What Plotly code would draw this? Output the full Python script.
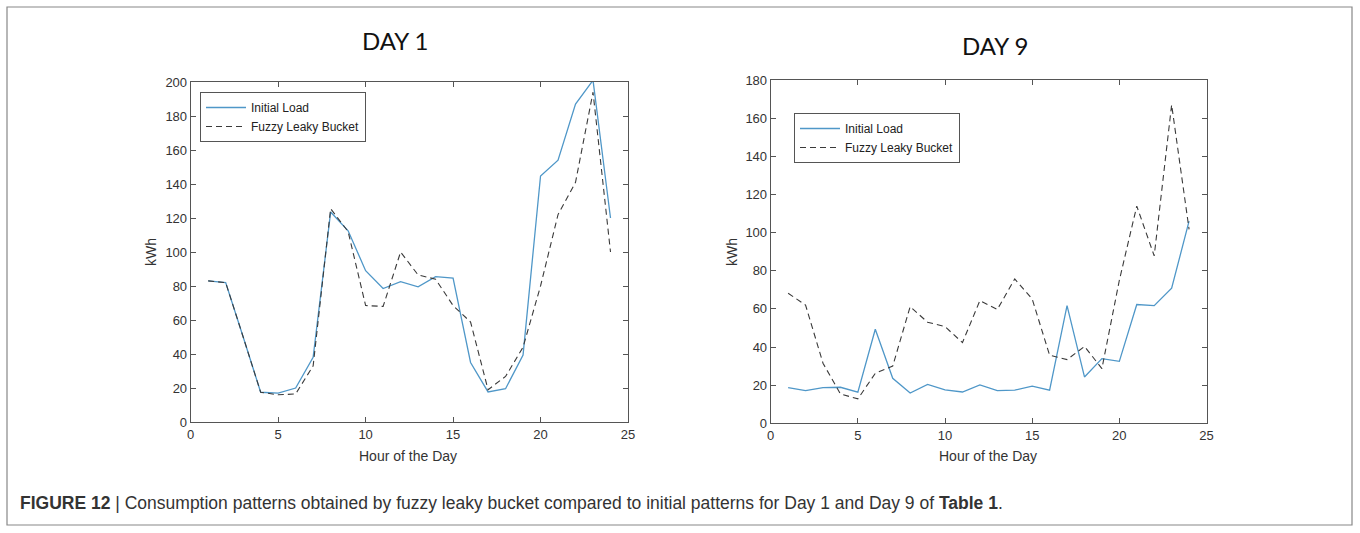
import plotly.graph_objects as go

hours = list(range(1, 25))
day1_initial = [83, 82, 50, 17.5, 17, 20, 38, 123.5, 112.5, 89, 78.5, 82.5, 79.5, 85.5, 84.7, 35, 17.7, 19.6, 39.4, 144.7, 154, 187, 201, 120]
day1_fuzzy = [83, 82, 50, 17.5, 16, 16.5, 33, 125.5, 112, 68.5, 68, 100, 86.5, 84, 68.5, 58.8, 19, 26.8, 44, 80, 122, 141, 194, 100]
day9_initial = [18.7, 17.1, 18.7, 18.9, 16.3, 49.3, 23.6, 15.9, 20.4, 17.5, 16.4, 20.1, 17.1, 17.4, 19.5, 17.4, 61.7, 24.3, 33.9, 32.5, 62.3, 61.7, 70.8, 106]
day9_fuzzy = [68.2, 62, 31.5, 15.4, 12.8, 26.2, 30, 61.2, 53, 50.7, 42.3, 64.3, 59.7, 75.7, 65.2, 35.7, 33.4, 40.3, 28.7, 75, 113.9, 87.8, 167, 101.7]

x_ticks = [0, 5, 10, 15, 20, 25]
y1_ticks = [0, 20, 40, 60, 80, 100, 120, 140, 160, 180, 200]
y9_ticks = [0, 20, 40, 60, 80, 100, 120, 140, 160, 180]

BLUE = "#4f97c8"
DASH = "#3a3a3a"
AXC = "#555555"
FONT = "Liberation Sans, Arial, sans-serif"

fig = go.Figure()
fig.add_trace(go.Scatter(x=hours, y=day1_initial, mode="lines", name="Initial Load",
                         line=dict(color=BLUE, width=1.3), xaxis="x", yaxis="y", legend="legend"))
fig.add_trace(go.Scatter(x=hours, y=day1_fuzzy, mode="lines", name="Fuzzy Leaky Bucket",
                         line=dict(color=DASH, width=1.1, dash="6px,4px"), xaxis="x", yaxis="y", legend="legend"))
fig.add_trace(go.Scatter(x=hours, y=day9_initial, mode="lines", name="Initial Load",
                         line=dict(color=BLUE, width=1.3), xaxis="x2", yaxis="y2", legend="legend2"))
fig.add_trace(go.Scatter(x=hours, y=day9_fuzzy, mode="lines", name="Fuzzy Leaky Bucket",
                         line=dict(color=DASH, width=1.1, dash="6px,4px"), xaxis="x2", yaxis="y2", legend="legend2"))

axis_common = dict(showline=True, linecolor=AXC, linewidth=1, mirror="ticks", ticks="inside",
                   ticklen=5, tickcolor=AXC, showgrid=False, zeroline=False, automargin=False,
                   tickfont=dict(family=FONT, size=13, color="#333"))

W, H = 1360, 533
fig.update_layout(
    template="none",
    width=W, height=H, margin=dict(l=0, r=0, t=0, b=0),
    paper_bgcolor="white", plot_bgcolor="white",
    font=dict(family=FONT, color="#333"),
    xaxis=dict(domain=[190.7 / W, 628 / W], range=[0, 25], tickvals=x_ticks, anchor="y", **axis_common),
    yaxis=dict(domain=[(H - 422) / H, (H - 82) / H], range=[0, 200], tickvals=y1_ticks, anchor="x", **axis_common),
    xaxis2=dict(domain=[770.7 / W, 1206.5 / W], range=[0, 25], tickvals=x_ticks, anchor="y2", **axis_common),
    yaxis2=dict(domain=[(H - 423.3) / H, (H - 80) / H], range=[0, 180], tickvals=y9_ticks, anchor="x2", **axis_common),
    legend=dict(x=200 / W, y=(H - 92) / H, xanchor="left", yanchor="top", bgcolor="white",
                bordercolor=AXC, borderwidth=1, font=dict(family=FONT, size=12, color="#222"),
                tracegroupgap=0, itemwidth=40),
    legend2=dict(x=794 / W, y=(H - 113) / H, xanchor="left", yanchor="top", bgcolor="white",
                 bordercolor=AXC, borderwidth=1, font=dict(family=FONT, size=12, color="#222"),
                 tracegroupgap=0, itemwidth=40),
    showlegend=True,
)

def ann(text, x, y, size, family=FONT, color="#333", angle=0, xanchor="center"):
    fig.add_annotation(text=text, x=x / W, y=(H - y) / H, xref="paper", yref="paper",
                       xanchor=xanchor, yanchor="middle", showarrow=False, textangle=angle,
                       font=dict(family=family, size=size, color=color))

ann("DAY 1", 395, 40, 24, family="Lato, Open Sans, sans-serif", color="#111")
ann("DAY 9", 995, 45.5, 24, family="Lato, Open Sans, sans-serif", color="#111")
ann("Hour of the Day", 408, 456, 14)
ann("Hour of the Day", 988, 456, 14)
ann("kWh", 151, 252, 14, angle=-90)
ann("kWh", 732, 252, 14, angle=-90)
ann("<b>FIGURE 12</b> | Consumption patterns obtained by fuzzy leaky bucket compared to initial patterns for Day 1 and Day 9 of <b>Table 1</b>.",
    18, 503, 17.5, xanchor="left")

fig.add_shape(type="rect", xref="paper", yref="paper", x0=7 / W, x1=1352 / W, y0=(H - 525) / H, y1=(H - 7) / H,
              line=dict(color="#888", width=1.2), fillcolor="rgba(0,0,0,0)", layer="below")

fig.write_html("out.html")
